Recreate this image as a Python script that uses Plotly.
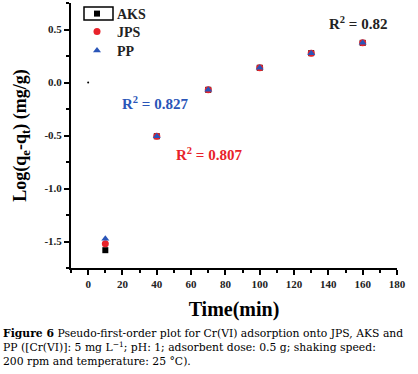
import plotly.graph_objects as go

time_min = [10, 40, 70, 100, 130, 160]
aks = [-1.582, -0.507, -0.069, 0.139, 0.277, 0.374]
jps = [-1.522, -0.507, -0.069, 0.139, 0.277, 0.374]
pp = [-1.475, -0.507, -0.069, 0.139, 0.277, 0.374]
stray_t = [0]
stray_v = [0.0]

x_ticks = [0, 20, 40, 60, 80, 100, 120, 140, 160, 180]
y_ticks = [-1.5, -1.0, -0.5, 0.0, 0.5]
y_ticklabels = ["-1.5", "-1.0", "-0.5", "0.0", "0.5"]

SERIF = "Liberation Serif"

# plot area in pixels
L, R, T, B = 71, 397, 3, 268
PW, PH = R - L, B - T


def px_x(xp):
    return (xp - L) / PW


def px_y(yp):
    return (B - yp) / PH


fig = go.Figure()
fig.add_trace(go.Scatter(x=time_min, y=aks, mode="markers", name="AKS", legend="legend",
                         marker=dict(symbol="square", size=6, color="black")))
fig.add_trace(go.Scatter(x=time_min, y=jps, mode="markers", name="JPS", legend="legend2",
                         marker=dict(symbol="circle", size=7, color="#e8222a")))
fig.add_trace(go.Scatter(x=time_min, y=pp, mode="markers", name="PP", legend="legend3",
                         marker=dict(symbol="triangle-up", size=7, color="#2a55b8")))
fig.add_trace(go.Scatter(x=stray_t, y=stray_v, mode="markers", showlegend=False,
                         marker=dict(symbol="circle", size=2, color="black")))

axis_common = dict(
    showline=True, linecolor="black", linewidth=2, mirror=False,
    ticks="outside", ticklen=5, tickwidth=1.5, tickcolor="black",
    showgrid=False, zeroline=False, automargin=False,
    ticklabeloverflow="allow",
    tickfont=dict(family=SERIF, size=11, color="#222", weight="bold"),
)

fig.update_xaxes(range=[-10, 180], tickvals=x_ticks,
                 minor=dict(dtick=10, ticklen=3, tickwidth=1.5, tickcolor="black", ticks="outside"),
                 title=dict(text="Time(min)", font=dict(family=SERIF, size=20, color="black", weight="bold"),
                            standoff=13),
                 **axis_common)
fig.update_yaxes(range=[-1.75, 0.75], tickvals=y_ticks, ticktext=y_ticklabels,
                 minor=dict(dtick=0.25, tick0=0, ticklen=3, tickwidth=1.5, tickcolor="black", ticks="outside"),
                 title=dict(text="Log(q<sub>e</sub>-q<sub>t</sub>) (mg/g)",
                            font=dict(family=SERIF, size=18, color="black", weight="bold"),
                            standoff=13),
                 **axis_common)

ann_font = dict(family=SERIF, size=15, weight="bold")
annotations = [
    dict(x=157.5, y=0.566, xref="x", yref="y", text="R<sup>2</sup> = 0.82",
         showarrow=False, font=dict(color="#222", **ann_font)),
    dict(x=38.7, y=-0.198, xref="x", yref="y", text="R<sup>2</sup> = 0.827",
         showarrow=False, font=dict(color="#2a55b8", **ann_font)),
    dict(x=70.4, y=-0.67, xref="x", yref="y", text="R<sup>2</sup> = 0.807",
         showarrow=False, font=dict(color="#e8222a", **ann_font)),
]

caption_lines = [
    "<b>Figure 6</b> Pseudo-first-order plot for Cr(VI) adsorption onto JPS, AKS and",
    "PP ([Cr(VI)]: 5 mg L<sup>−1</sup>; pH: 1; adsorbent dose: 0.5 g; shaking speed:",
    "200 rpm and temperature: 25 °C).",
]
annotations.append(dict(x=px_x(1), y=px_y(347), xref="paper", yref="paper",
                        xanchor="left", yanchor="middle", align="left", showarrow=False,
                        text="<br>".join(caption_lines),
                        font=dict(family="DejaVu Serif", size=10.8, color="black")))

leg_font = dict(family=SERIF, size=14, color="#222", weight="bold")


def leg(ycenter):
    return dict(x=px_x(77), y=px_y(ycenter), xanchor="left", yanchor="middle",
                font=leg_font, bgcolor="rgba(255,255,255,0)", borderwidth=0,
                itemsizing="trace")


fig.update_layout(
    width=418, height=374,
    margin=dict(l=L, r=418 - R, t=T, b=374 - B, autoexpand=False),
    plot_bgcolor="white", paper_bgcolor="white",
    showlegend=True,
    legend=leg(14), legend2=leg(32), legend3=leg(51),
    annotations=annotations,
    shapes=[dict(type="rect", xref="paper", yref="paper", layer="above",
                 x0=px_x(84), x1=px_x(113), y0=px_y(20), y1=px_y(7),
                 line=dict(color="black", width=1.5), fillcolor="rgba(0,0,0,0)")],
)

fig.write_html("out.html", config={"displayModeBar": False},
               post_script="document.body.style.margin='0';")
